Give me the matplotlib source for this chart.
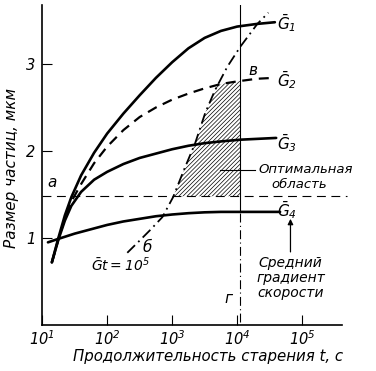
import numpy as np
import matplotlib
matplotlib.use("Agg")
import matplotlib.pyplot as plt
from matplotlib.ticker import NullLocator, FixedLocator, FixedFormatter

plt.rcParams['font.family'] = ['DejaVu Sans']
plt.rcParams['font.style'] = 'italic'
plt.rcParams['mathtext.fontset'] = 'custom'
plt.rcParams['mathtext.rm'] = 'DejaVu Sans:italic'
plt.rcParams['mathtext.it'] = 'DejaVu Sans:italic'
plt.rcParams['hatch.linewidth'] = 0.5

# ---- data (log10 of time, particle size in um) ----
g1_logt = [1.15, 1.25, 1.35, 1.45, 1.60, 1.80, 2.00, 2.25, 2.50, 2.75, 3.00, 3.25, 3.50, 3.75, 4.00, 4.30, 4.58]
g1_size = [0.72, 1.00, 1.26, 1.47, 1.72, 1.98, 2.20, 2.43, 2.64, 2.84, 3.02, 3.18, 3.30, 3.38, 3.43, 3.46, 3.48]

g2_logt = [1.15, 1.25, 1.35, 1.45, 1.60, 1.80, 2.00, 2.25, 2.50, 2.75, 3.00, 3.25, 3.50, 3.75, 4.00, 4.30, 4.55]
g2_size = [0.72, 0.98, 1.22, 1.42, 1.62, 1.86, 2.05, 2.24, 2.39, 2.50, 2.59, 2.66, 2.72, 2.77, 2.80, 2.83, 2.84]

g3_logt = [1.15, 1.25, 1.35, 1.45, 1.60, 1.80, 2.00, 2.25, 2.50, 2.75, 3.00, 3.25, 3.50, 3.75, 4.05, 4.60]
g3_size = [0.72, 0.98, 1.20, 1.37, 1.53, 1.67, 1.76, 1.85, 1.92, 1.97, 2.02, 2.06, 2.09, 2.11, 2.13, 2.15]

g4_logt = [1.09, 1.25, 1.50, 1.75, 2.00, 2.25, 2.50, 2.75, 3.00, 3.25, 3.50, 3.75, 4.05, 4.66]
g4_size = [0.95, 0.99, 1.05, 1.10, 1.15, 1.19, 1.22, 1.25, 1.27, 1.285, 1.295, 1.30, 1.30, 1.30]

gt_logt = [2.31, 2.50, 2.66, 2.85, 3.015, 3.18, 3.354, 3.51, 3.66, 3.85, 4.05, 4.31, 4.48]
gt_size = [0.83, 0.97, 1.09, 1.24, 1.47, 1.78, 2.09, 2.44, 2.70, 2.97, 3.20, 3.46, 3.59]

optimal_size = 1.48        # horizontal line a
mean_gradient_logt = 4.046 # vertical line в-г

xtick_exp = [1, 2, 3, 4, 5]
ytick_vals = [1, 2, 3]

def T(lg):
    return 10 ** np.asarray(lg, dtype=float)

fig = plt.figure(figsize=(3.76, 3.71), dpi=100)
ax = fig.add_axes([0.112, 0.124, 0.798, 0.863])
ax.set_xscale('log')
ax.set_xlim(10 ** 1.0, 10 ** 5.615)
ax.set_ylim(0, 3.68)

# hatched optimal region
gt_l = np.array(gt_logt); gt_s = np.array(gt_size)
g2l = np.array(g2_logt); g2s = np.array(g2_size)
x_cross = 3.675
mask = (gt_s >= optimal_size) & (gt_l < x_cross)
m2 = (g2l > x_cross) & (g2l < mean_gradient_logt)
x_bot = np.interp(optimal_size, gt_s, gt_l)
poly_l = [x_bot, *gt_l[mask], x_cross, *g2l[m2], mean_gradient_logt, mean_gradient_logt]
poly_s = [optimal_size, *gt_s[mask], np.interp(x_cross, g2l, g2s), *g2s[m2],
          np.interp(mean_gradient_logt, g2l, g2s), optimal_size]
ax.fill(T(poly_l), poly_s, facecolor='none', edgecolor='black', hatch='////////', linewidth=0)

# curves
ax.plot(T(g1_logt), g1_size, color='black', lw=1.9, solid_capstyle='round')
ax.plot(T(g2_logt), g2_size, color='black', lw=1.6, linestyle=(0, (4.5, 3)))
ax.plot(T(g3_logt), g3_size, color='black', lw=1.9, solid_capstyle='round')
ax.plot(T(g4_logt), g4_size, color='black', lw=1.9, solid_capstyle='round')
ax.plot(T(gt_logt), gt_size, color='black', lw=1.3, linestyle=(0, (6, 2.5, 1, 2.5)))

# horizontal dashed line
ax.plot(T([1.0, 5.69]), [optimal_size, optimal_size], color='black', lw=0.8,
        linestyle=(0, (8, 5)), clip_on=False)
# vertical line
ax.plot(T([mean_gradient_logt] * 2), [1.30, 3.68], color='black', lw=0.8)
ax.plot(T([mean_gradient_logt] * 2), [0.03, 1.30], color='black', lw=0.8,
        linestyle=(0, (8, 3, 1, 3)))

# leader line for optimal region
ax.plot(T([3.74, 4.28]), [1.78, 1.78], color='black', lw=0.8)
# arrow for mean gradient
ax.annotate('', xy=(T(4.82), 1.22), xytext=(T(4.82), 0.84),
            arrowprops=dict(arrowstyle='-|>', color='black', lw=0.9,
                            mutation_scale=8, shrinkA=0, shrinkB=0),
            annotation_clip=False)

fs = 10
ax.text(T(4.62), 3.47, r'$\bar{G}_1$', fontsize=11, va='center', ha='left')
ax.text(T(4.62), 2.82, r'$\bar{G}_2$', fontsize=11, va='center', ha='left')
ax.text(T(4.62), 2.09, r'$\bar{G}_3$', fontsize=11, va='center', ha='left')
ax.text(T(4.62), 1.32, r'$\bar{G}_4$', fontsize=11, va='center', ha='left')
ax.text(T(2.2), 0.69, r'$\bar{G}t = 10^5$', fontsize=fs, va='center', ha='center')
ax.text(T(1.08), 1.64, 'а', fontsize=11, va='center', ha='left')
ax.text(T(4.25), 2.93, 'в', fontsize=11, va='center', ha='center')
ax.text(T(2.62), 0.89, 'б', fontsize=11, va='center', ha='center')
ax.text(T(3.86), 0.31, 'г', fontsize=11, va='center', ha='center')
ax.text(T(4.33), 1.79, 'Оптимальная', fontsize=9.5, va='center', ha='left')
ax.text(T(4.52), 1.61, 'область', fontsize=9.5, va='center', ha='left')
ax.text(T(4.82), 0.71, 'Средний', fontsize=10, va='center', ha='center')
ax.text(T(4.82), 0.54, 'градиент', fontsize=10, va='center', ha='center')
ax.text(T(4.82), 0.37, 'скорости', fontsize=10, va='center', ha='center')

# axes styling
for s in ['top', 'right']:
    ax.spines[s].set_visible(False)
for s in ['left', 'bottom']:
    ax.spines[s].set_linewidth(1.2)
ax.xaxis.set_major_locator(FixedLocator(T(xtick_exp)))
ax.xaxis.set_major_formatter(FixedFormatter([r'$10^{%d}$' % e for e in xtick_exp]))
ax.xaxis.set_minor_locator(NullLocator())
ax.set_yticks(ytick_vals)
ax.set_yticklabels([str(v) for v in ytick_vals])
ax.tick_params(direction='in', length=7, width=0.8, labelsize=10.5)
ax.tick_params(axis='x', pad=3)
ax.tick_params(axis='y', pad=5)

fig.text(12 / 376, 1 - 168 / 371, 'Размер частиц, мкм', rotation=90,
         fontsize=11, ha='center', va='center', style='italic')
fig.text(208 / 376, 1 - 357 / 371, 'Продолжительность старения t, с',
         fontsize=10.8, ha='center', va='center', style='italic')

fig.savefig('out.png', dpi=100)
